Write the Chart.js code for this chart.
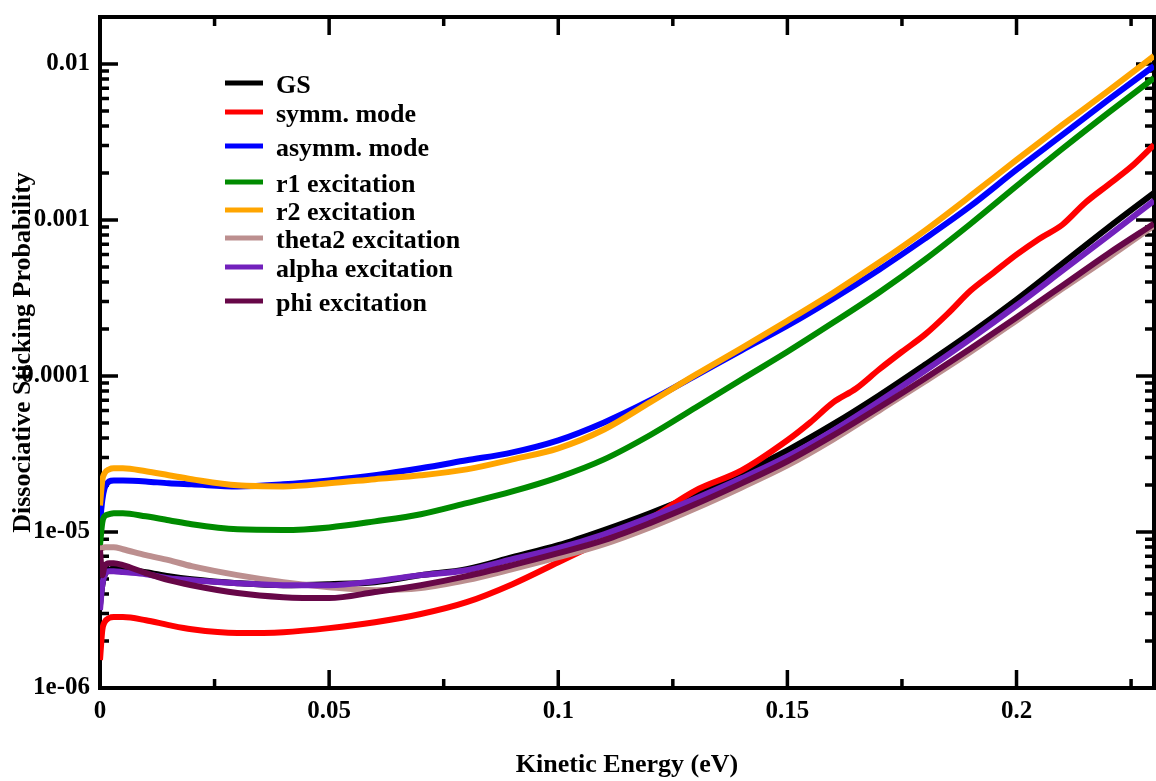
<!DOCTYPE html>
<html>
<head>
<meta charset="utf-8">
<script src="https://cdn.jsdelivr.net/npm/chart.js@4.4.0/dist/chart.umd.min.js"></script>
<style>
  html, body { margin: 0; padding: 0; background: #fff; }
  #wrap { width: 1156px; height: 781px; }
</style>
</head>
<body>
<div id="wrap"><canvas id="stickingChart" width="1156" height="781"></canvas></div>
<script>
// Kinetic energy grid (eV)
const energy = [0, 0.0005, 0.001, 0.002, 0.003, 0.005, 0.01, 0.015, 0.02, 0.03, 0.04, 0.05, 0.06, 0.07, 0.08, 0.09,
    0.1, 0.11, 0.12, 0.13, 0.14, 0.15, 0.16, 0.17, 0.18, 0.19, 0.2, 0.21, 0.22, 0.23];
// the symm. mode curve wiggles at high energy, so it is read on a finer grid there
const energySymm = [0, 0.0005, 0.001, 0.002, 0.003, 0.005, 0.01, 0.015, 0.02, 0.03, 0.04, 0.05, 0.06, 0.07, 0.08, 0.09,
    0.1, 0.11, 0.12, 0.13, 0.14, 0.15, 0.155, 0.16, 0.165, 0.17, 0.175, 0.18, 0.185, 0.19, 0.195,
    0.2, 0.205, 0.21, 0.215, 0.22, 0.225, 0.23];

// Dissociative sticking probability
const gs = [3.40e-6, 4.56e-6, 5.29e-6, 5.69e-6, 5.86e-6, 5.78e-6, 5.53e-6, 5.21e-6, 4.98e-6, 4.70e-6, 4.56e-6, 4.63e-6,
    4.77e-6, 5.29e-6, 5.78e-6, 6.89e-6, 8.23e-6, 1.03e-5, 1.32e-5, 1.74e-5, 2.38e-5, 3.34e-5, 4.91e-5, 7.50e-5,
    1.18e-4, 1.88e-4, 3.09e-4, 5.25e-4, 8.93e-4, 1.49e-3];
const symm = [1.51e-6, 2.35e-6, 2.64e-6, 2.81e-6, 2.85e-6, 2.85e-6, 2.72e-6, 2.53e-6, 2.38e-6, 2.25e-6, 2.28e-6, 2.42e-6,
    2.64e-6, 2.98e-6, 3.55e-6, 4.63e-6, 6.40e-6, 8.86e-6, 1.22e-5, 1.85e-5, 2.48e-5, 3.87e-5, 5.04e-5, 6.77e-5,
    8.32e-5, 1.10e-4, 1.43e-4, 1.84e-4, 2.51e-4, 3.53e-4, 4.60e-4, 5.99e-4, 7.59e-4, 9.32e-4, 1.29e-3, 1.68e-3,
    2.19e-3, 3.03e-3];
const asymm = [1.15e-5, 1.60e-5, 1.91e-5, 2.11e-5, 2.14e-5, 2.14e-5, 2.11e-5, 2.05e-5, 2.02e-5, 1.96e-5, 2.02e-5, 2.14e-5,
    2.31e-5, 2.56e-5, 2.88e-5, 3.24e-5, 3.87e-5, 5.04e-5, 6.96e-5, 1.007e-4, 1.46e-4, 2.10e-4, 3.13e-4, 4.80e-4,
    7.59e-4, 1.23e-3, 2.10e-3, 3.51e-3, 5.88e-3, 9.71e-3];
const r1 = [8.23e-6, 1.15e-5, 1.26e-5, 1.30e-5, 1.32e-5, 1.32e-5, 1.26e-5, 1.19e-5, 1.12e-5, 1.04e-5, 1.03e-5, 1.07e-5,
    1.17e-5, 1.30e-5, 1.53e-5, 1.82e-5, 2.24e-5, 2.92e-5, 4.17e-5, 6.28e-5, 9.50e-5, 1.43e-4, 2.20e-4, 3.43e-4,
    5.57e-4, 9.46e-4, 1.65e-3, 2.86e-3, 4.86e-3, 8.14e-3];
const r2 = [1.48e-5, 2.14e-5, 2.38e-5, 2.52e-5, 2.56e-5, 2.56e-5, 2.45e-5, 2.31e-5, 2.18e-5, 1.99e-5, 1.96e-5, 2.05e-5,
    2.18e-5, 2.31e-5, 2.52e-5, 2.92e-5, 3.44e-5, 4.54e-5, 6.77e-5, 1.02e-4, 1.51e-4, 2.26e-4, 3.42e-4, 5.33e-4,
    8.55e-4, 1.43e-3, 2.43e-3, 4.07e-3, 6.72e-3, 1.125e-2];
const theta2 = [7.87e-6, 7.87e-6, 7.99e-6, 7.99e-6, 7.99e-6, 7.75e-6, 7.10e-6, 6.60e-6, 6.04e-6, 5.29e-6, 4.77e-6, 4.43e-6,
    4.24e-6, 4.37e-6, 4.91e-6, 5.78e-6, 6.89e-6, 8.36e-6, 1.07e-5, 1.42e-5, 1.93e-5, 2.67e-5, 3.92e-5, 6.00e-5,
    9.22e-5, 1.43e-4, 2.27e-4, 3.63e-4, 5.73e-4, 9.19e-4];
const alpha = [3.16e-6, 4.56e-6, 5.29e-6, 5.61e-6, 5.61e-6, 5.53e-6, 5.36e-6, 5.06e-6, 4.91e-6, 4.70e-6, 4.56e-6, 4.56e-6,
    4.84e-6, 5.29e-6, 5.69e-6, 6.69e-6, 7.87e-6, 9.67e-6, 1.24e-5, 1.64e-5, 2.21e-5, 3.05e-5, 4.47e-5, 6.86e-5,
    1.08e-4, 1.73e-4, 2.83e-4, 4.73e-4, 7.92e-4, 1.33e-3];
const phi = [7.64e-6, 5.29e-6, 6.04e-6, 6.31e-6, 6.31e-6, 6.13e-6, 5.45e-6, 4.91e-6, 4.56e-6, 4.06e-6, 3.82e-6, 3.77e-6,
    4.12e-6, 4.56e-6, 5.21e-6, 6.13e-6, 7.31e-6, 8.86e-6, 1.14e-5, 1.51e-5, 2.05e-5, 2.84e-5, 4.16e-5, 6.28e-5,
    9.64e-5, 1.50e-4, 2.37e-4, 3.79e-4, 6.08e-4, 9.46e-4];

const seriesLabels = ['GS', 'symm. mode', 'asymm. mode', 'r1 excitation', 'r2 excitation',
    'theta2 excitation', 'alpha excitation', 'phi excitation'];

const xTicks = [0, 0.05, 0.1, 0.15, 0.2];
const xTickLabels = ['0', '0.05', '0.1', '0.15', '0.2'];
const yTicks = [1e-6, 1e-5, 1e-4, 1e-3, 1e-2];
const yTickLabels = ['1e-06', '1e-05', '0.0001', '0.001', '0.01'];

const X_MAX = 0.23;
const Y_MIN = 1e-6;
const Y_MAX = 0.02;

const colors = ['#000000', '#ff0000', '#0000ff', '#008b00', '#ffa500', '#bc8f8f', '#7221bc', '#670748'];
const serif = "'Liberation Serif', 'Times New Roman', serif";

function pairs(xs, ys) {
    return xs.map((x, i) => ({ x: x, y: ys[i] }));
}

const seriesData = [
    pairs(energy, gs),
    pairs(energySymm, symm),
    pairs(energy, asymm),
    pairs(energy, r1),
    pairs(energy, r2),
    pairs(energy, theta2),
    pairs(energy, alpha),
    pairs(energy, phi)
];

const datasets = seriesData.map((d, i) => ({
    label: seriesLabels[i],
    data: d,
    borderColor: colors[i],
    backgroundColor: colors[i],
    borderWidth: 6,
    pointRadius: 0,
    fill: false,
    tension: 0.4,
    cubicInterpolationMode: 'monotone',
    order: seriesData.length - i   // later sets are drawn on top
}));

// frame with inward ticks on all four sides
const framePlugin = {
    id: 'frame',
    beforeDatasetsDraw(chart) {
        const ctx = chart.ctx;
        const a = chart.chartArea;
        const xs = chart.scales.x;
        const ys = chart.scales.y;
        ctx.save();
        ctx.strokeStyle = '#000';
        ctx.lineWidth = 4;
        ctx.strokeRect(a.left, a.top, a.right - a.left, a.bottom - a.top);

        ctx.lineWidth = 3.5;
        for (let k = 0; k * 0.025 <= X_MAX + 1e-9; k++) {
            const v = k * 0.025;
            const px = xs.getPixelForValue(v);
            const len = (k % 2 === 0) ? 18 : 9;
            ctx.beginPath();
            ctx.moveTo(px, a.bottom); ctx.lineTo(px, a.bottom - len);
            ctx.moveTo(px, a.top); ctx.lineTo(px, a.top + len);
            ctx.stroke();
        }
        for (let e = -6; e <= -2; e++) {
            for (let m = 1; m <= 9; m++) {
                const v = m * Math.pow(10, e);
                if (v > Y_MAX * 1.0001) break;
                const py = ys.getPixelForValue(v);
                const len = (m === 1) ? 18 : 9;
                ctx.beginPath();
                ctx.moveTo(a.left, py); ctx.lineTo(a.left + len, py);
                ctx.moveTo(a.right, py); ctx.lineTo(a.right - len, py);
                ctx.stroke();
            }
        }
        ctx.restore();
    }
};

// legend box inside the plot, drawn from the datasets
const legendPlugin = {
    id: 'insideLegend',
    afterDraw(chart) {
        const ctx = chart.ctx;
        const rows = [83, 112, 146, 182, 210, 238, 267, 301];
        ctx.save();
        ctx.font = 'bold 26px ' + serif;
        ctx.textBaseline = 'alphabetic';
        ctx.fillStyle = '#000';
        chart.data.datasets.forEach((ds, i) => {
            const y = rows[i];
            ctx.strokeStyle = ds.borderColor;
            ctx.lineWidth = 5;
            ctx.beginPath();
            ctx.moveTo(225, y);
            ctx.lineTo(263, y);
            ctx.stroke();
            ctx.fillText(ds.label, 276, y + 10);
        });
        ctx.restore();
    }
};

new Chart(document.getElementById('stickingChart').getContext('2d'), {
    type: 'line',
    data: { datasets: datasets },
    plugins: [framePlugin, legendPlugin],
    options: {
        responsive: false,
        animation: false,
        layout: { padding: { top: 17, right: 2, left: 0, bottom: 0 } },
        plugins: {
            legend: { display: false },
            tooltip: { enabled: false }
        },
        scales: {
            x: {
                type: 'linear',
                min: 0,
                max: X_MAX,
                grid: { display: false, drawTicks: false },
                border: { display: false },
                afterBuildTicks: (scale) => { scale.ticks = xTicks.map(v => ({ value: v })); },
                afterFit: (scale) => { scale.height = 93; scale.paddingLeft = 0; scale.paddingRight = 0; },
                ticks: {
                    padding: 9,
                    color: '#000',
                    maxRotation: 0,
                    font: { family: serif, size: 25, weight: 'bold' },
                    callback: (value, index) => xTickLabels[index]
                },
                title: {
                    display: true,
                    text: 'Kinetic Energy (eV)',
                    color: '#000',
                    padding: { top: 0, bottom: 0 },
                    font: { family: serif, size: 26, weight: 'bold' }
                }
            },
            y: {
                type: 'logarithmic',
                min: Y_MIN,
                max: Y_MAX,
                grid: { display: false, drawTicks: false },
                border: { display: false },
                afterBuildTicks: (scale) => { scale.ticks = yTicks.map(v => ({ value: v })); },
                afterFit: (scale) => { scale.width = 100; scale.paddingTop = 0; scale.paddingBottom = 0; },
                ticks: {
                    padding: 10,
                    color: '#000',
                    font: { family: serif, size: 25, weight: 'bold' },
                    callback: (value, index) => yTickLabels[index]
                },
                title: {
                    display: true,
                    text: 'Dissociative Sticking Probability',
                    color: '#000',
                    padding: { top: 8, bottom: 0 },
                    font: { family: serif, size: 26, weight: 'bold' }
                }
            }
        }
    }
});
</script>
</body>
</html>
